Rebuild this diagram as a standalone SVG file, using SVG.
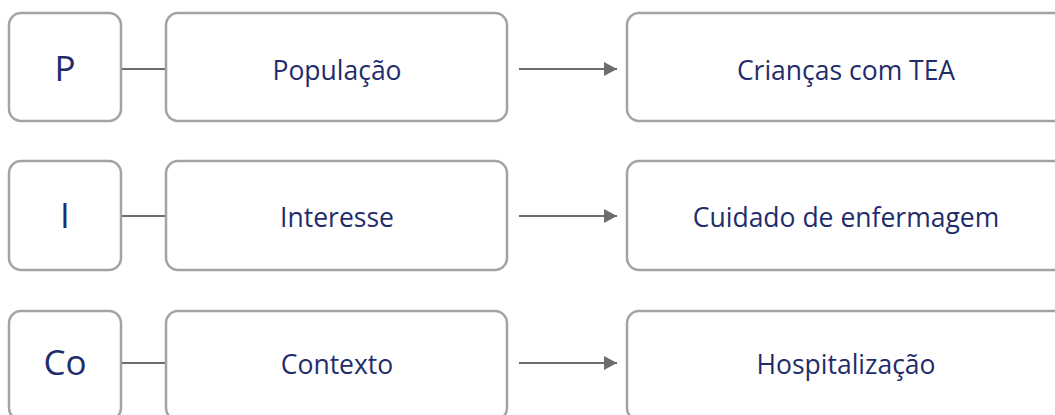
<svg xmlns="http://www.w3.org/2000/svg" width="1055" height="415" viewBox="0 0 1055 415">
<defs>
<style>
.box{fill:#fff;stroke:#a3a3a3;stroke-width:2.5}
.ln{stroke:#6d6d6d;stroke-width:2;fill:none}
.big{font-family:"Open Sans","Noto Sans",sans-serif;font-size:35px;fill:#1f2d6b;text-anchor:middle}
.lbl{font-family:"Open Sans","Noto Sans",sans-serif;font-size:26.5px;fill:#1f2d6b;text-anchor:middle}
</style>
<marker id="ah" viewBox="0 0 13 14" refX="13" refY="7" markerWidth="13" markerHeight="14" markerUnits="userSpaceOnUse" orient="auto">
<path d="M0,0 L13,7 L0,14 Z" fill="#6d6d6d"/>
</marker>
</defs>
<rect width="1055" height="415" fill="#fff"/>
<g id="connectors">
<line class="ln" x1="121" y1="69" x2="166" y2="69"/>
<line class="ln" x1="519" y1="69" x2="617" y2="69" marker-end="url(#ah)"/>
<line class="ln" x1="121" y1="216" x2="166" y2="216"/>
<line class="ln" x1="519" y1="216" x2="617" y2="216" marker-end="url(#ah)"/>
<line class="ln" x1="121" y1="363" x2="166" y2="363"/>
<line class="ln" x1="519" y1="363" x2="617" y2="363" marker-end="url(#ah)"/>
</g>
<g id="node-P"><rect class="box" x="9" y="13" width="112" height="108" rx="12"/><text class="big" x="65" y="81">P</text></g>
<g id="node-populacao"><rect class="box" x="166" y="13" width="341" height="108" rx="12"/><text class="lbl" x="337" y="80">População</text></g>
<g id="node-criancas"><rect class="box" x="627" y="13" width="440" height="108" rx="12"/><text class="lbl" x="846" y="80">Crianças com TEA</text></g>
<g id="node-I"><rect class="box" x="9" y="161" width="112" height="109" rx="12"/><text class="big" x="65" y="228">I</text></g>
<g id="node-interesse"><rect class="box" x="166" y="161" width="341" height="109" rx="12"/><text class="lbl" x="337" y="227">Interesse</text></g>
<g id="node-cuidado"><rect class="box" x="627" y="161" width="440" height="109" rx="12"/><text class="lbl" x="846" y="227">Cuidado de enfermagem</text></g>
<g id="node-Co"><rect class="box" x="9" y="311" width="112" height="109" rx="12"/><text class="big" x="65" y="375">Co</text></g>
<g id="node-contexto"><rect class="box" x="166" y="311" width="341" height="109" rx="12"/><text class="lbl" x="337" y="374">Contexto</text></g>
<g id="node-hospitalizacao"><rect class="box" x="627" y="311" width="440" height="109" rx="12"/><text class="lbl" x="846" y="374">Hospitalização</text></g>
</svg>
